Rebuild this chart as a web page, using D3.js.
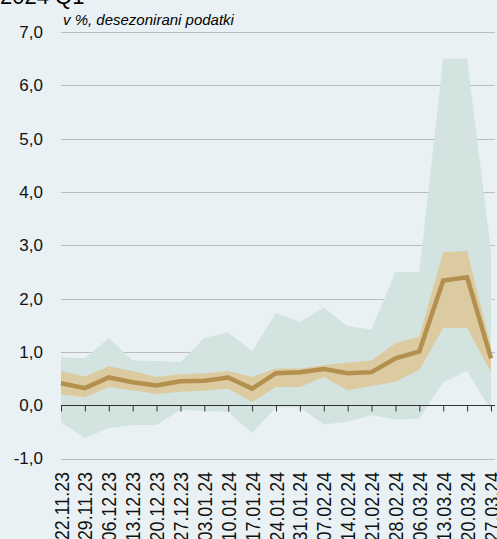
<!DOCTYPE html>
<meta charset="utf-8">
<style>
body { margin: 0; background: #e9f1f4; }
svg { display: block; background: #e9f1f4; font-family: "Liberation Sans", Arial, sans-serif; }
.grid line { stroke: #bcbcbc; stroke-width: 1px; }
.axis--x path { display: none; }
.axis--x line { stroke: #333; }
</style>
<svg width="497" height="539"></svg>
<script src="https://cdn.jsdelivr.net/npm/d3@7"></script>
<script>

var dates = ["22.11.23", "29.11.23", "06.12.23", "13.12.23", "20.12.23", "27.12.23", "03.01.24",
             "10.01.24", "17.01.24", "24.01.24", "31.01.24", "07.02.24", "14.02.24", "21.02.24",
             "28.02.24", "06.03.24", "13.03.24", "20.03.24", "27.03.24"];

// median line
var median = [0.41, 0.32, 0.52, 0.43, 0.37, 0.45, 0.46, 0.52, 0.31, 0.60, 0.62, 0.68, 0.60, 0.62, 0.88, 1.01, 2.34, 2.40, 0.88];

// inner (tan) band
var innerHi = [0.64, 0.54, 0.73, 0.64, 0.53, 0.58, 0.60, 0.64, 0.53, 0.69, 0.69, 0.75, 0.80, 0.84, 1.16, 1.29, 2.87, 2.89, 1.09];
var innerLo = [0.20, 0.15, 0.34, 0.28, 0.21, 0.25, 0.27, 0.31, 0.06, 0.34, 0.34, 0.53, 0.28, 0.36, 0.44, 0.66, 1.45, 1.45, 0.62];

// outer (green) band
var outerHi = [0.90, 0.88, 1.26, 0.84, 0.83, 0.81, 1.26, 1.37, 1.01, 1.73, 1.56, 1.83, 1.48, 1.42, 2.50, 2.50, 6.50, 6.50, 2.90];
var outerLo = [-0.32, -0.62, -0.43, -0.37, -0.37, -0.09, -0.11, -0.13, -0.52, -0.04, -0.04, -0.36, -0.31, -0.19, -0.27, -0.25, 0.43, 0.64, -0.10];

var yTicks = [-1, 0, 1, 2, 3, 4, 5, 6, 7];

var svg = d3.select("svg");

var x = d3.scalePoint().domain(dates).range([61, 491]),
    y = d3.scaleLinear().domain([-1, 7]).range([458.5, 32]);

var fmt = function(d) { return d3.format(".1f")(d).replace(".", ",").replace("\u2212", "-"); };

// title (cut off at top)
svg.append("text")
    .attr("x", 0)
    .attr("y", 4)
    .style("font-size", "22px")
    .text("2024 Q1");

svg.append("text")
    .attr("x", 63)
    .attr("y", 25)
    .style("font-size", "15px")
    .style("font-style", "italic")
    .text("v %, desezonirani podatki");

// gridlines
svg.append("g")
    .attr("class", "grid")
  .selectAll("line")
  .data(yTicks.filter(function(d) { return d !== 0; }))
  .enter().append("line")
    .attr("x1", 61)
    .attr("x2", 495)
    .attr("y1", function(d) { return Math.round(y(d)) + 0.5; })
    .attr("y2", function(d) { return Math.round(y(d)) + 0.5; });

// y labels
svg.append("g")
  .selectAll("text")
  .data(yTicks)
  .enter().append("text")
    .attr("x", 43)
    .attr("y", function(d) { return y(d); })
    .attr("dy", "0.35em")
    .attr("text-anchor", "end")
    .style("font-size", "17px")
    .style("fill", "#111")
    .text(fmt);

var idx = d3.range(dates.length);

var area = function(hi, lo) {
  return d3.area()
      .x(function(i) { return x(dates[i]); })
      .y0(function(i) { return y(lo[i]); })
      .y1(function(i) { return y(hi[i]); });
};

svg.append("path")
    .datum(idx)
    .attr("d", area(outerHi, outerLo))
    .style("fill", "#d3e3df");

svg.append("path")
    .datum(idx)
    .attr("d", area(innerHi, innerLo))
    .style("fill", "#dccaa1");

// zero axis
var y0 = Math.round(y(0)) + 0.5;
svg.append("line")
    .attr("x1", 61)
    .attr("x2", 495)
    .attr("y1", y0)
    .attr("y2", y0)
    .style("stroke", "#333")
    .style("stroke-width", 1.2);

svg.append("g")
    .attr("class", "axis axis--x")
    .attr("transform", "translate(0," + y0 + ")")
    .call(d3.axisBottom(x).tickSize(6).tickPadding(0).tickFormat(""));

// rotated date labels (narrow, tall glyphs)
svg.append("g")
  .selectAll("text")
  .data(dates)
  .enter().append("text")
    .attr("transform", function(d) { return "translate(" + x(d) + ",472) rotate(-90) scale(0.85,1)"; })
    .attr("dy", "0.36em")
    .attr("text-anchor", "end")
    .style("font-size", "21px")
    .style("fill", "#111")
    .text(function(d) { return d; });

// median line
svg.append("path")
    .datum(idx)
    .attr("d", d3.line()
        .x(function(i) { return x(dates[i]); })
        .y(function(i) { return y(median[i]); }))
    .style("fill", "none")
    .style("stroke", "#b3904e")
    .style("stroke-width", 4.5);

</script>
